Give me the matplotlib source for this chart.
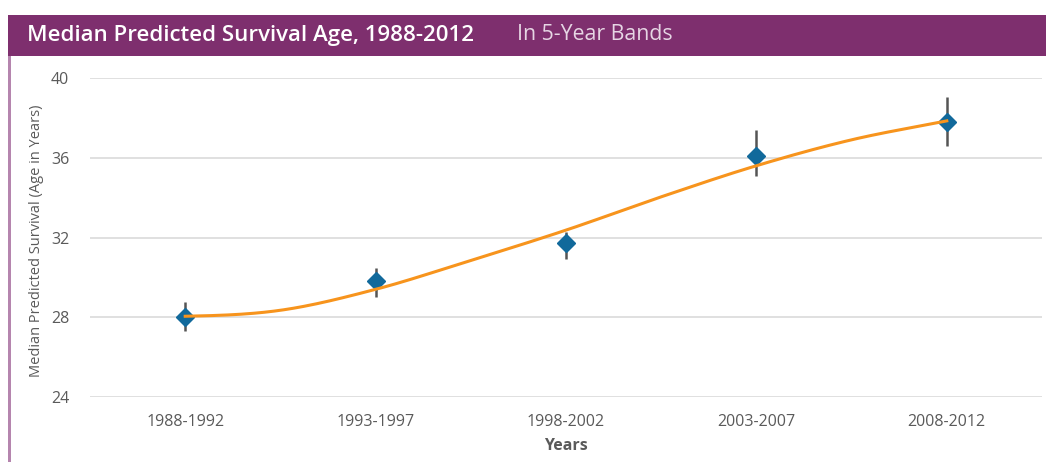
import numpy as np
import matplotlib
matplotlib.use("Agg")
import matplotlib.pyplot as plt
from matplotlib.patches import Rectangle

# ---- data ----
categories = ["1988-1992", "1993-1997", "1998-2002", "2003-2007", "2008-2012"]
median_age = [28.0, 29.8, 31.7, 36.1, 37.8]
err_low = [27.3, 29.0, 30.9, 35.1, 36.6]
err_high = [28.75, 30.45, 32.3, 37.4, 39.05]
# fitted trend read at half-category steps
trend_pos = [0, 0.5, 1, 1.5, 2, 2.5, 3, 3.5, 4]
trend_val = [28.05, 28.35, 29.4, 30.85, 32.37, 34.04, 35.6, 36.9, 37.85]
yticks = [24, 28, 32, 36, 40]

W, H = 1046, 462
fig = plt.figure(figsize=(W / 100, H / 100), dpi=100)
fig.patch.set_facecolor("white")

FONT = "Open Sans"
purple = "#7E2F6E"
# header bar and left border
fig.patches.append(Rectangle((8 / W, 1 - 56 / H), 1 - 8 / W, 41 / H,
                             transform=fig.transFigure, facecolor=purple,
                             edgecolor="none", zorder=0))
fig.patches.append(Rectangle((8 / W, 0), 3 / W, 1 - 56 / H,
                             transform=fig.transFigure, facecolor="#B585AE",
                             edgecolor="none", zorder=0))
fig.text(27 / W, 1 - 35 / H, "Median Predicted Survival Age, 1988-2012",
         color="white", fontsize=16, fontweight="semibold", family=FONT,
         ha="left", va="center")
fig.text(517 / W, 1 - 35 / H, "In 5-Year Bands", color="#E6D6E4",
         fontsize=15.3, family=FONT, ha="left", va="center")

ax = fig.add_axes([90 / W, 1 - 397 / H, (1042 - 90) / W, (397 - 78) / H])
x = np.arange(len(categories))

# smooth trend (cubic Hermite through read points)
tp = np.array(trend_pos, float)
tv = np.array(trend_val, float)
m = np.gradient(tv, tp)
m[0] = 0.2
xs, ys = [], []
for i in range(len(tp) - 1):
    h = tp[i + 1] - tp[i]
    t = np.linspace(0, 1, 30)
    h00 = 2 * t**3 - 3 * t**2 + 1
    h10 = t**3 - 2 * t**2 + t
    h01 = -2 * t**3 + 3 * t**2
    h11 = t**3 - t**2
    xs.append(tp[i] + t * h)
    ys.append(h00 * tv[i] + h10 * h * m[i] + h01 * tv[i + 1] + h11 * h * m[i + 1])
xs = np.concatenate(xs)
ys = np.concatenate(ys)

for yv in yticks:
    ax.axhline(yv, color="#DDDDDD", lw=1.3, zorder=0)

ax.vlines(x, err_low, err_high, color="#555555", lw=1.8, zorder=2)
ax.plot(x, median_age, linestyle="none", marker="D", markersize=9.5,
        color="#11699B", zorder=3)
ax.plot(xs, ys, color="#F7941D", lw=2.2, zorder=4)

ax.set_xlim(-0.5, 4.5)
ax.set_ylim(24, 40)
ax.set_yticks(yticks)
ax.set_xticks(x)
ax.set_xticklabels(categories)
for s in ax.spines.values():
    s.set_visible(False)
ax.tick_params(length=0, colors="#5A5A5A", labelsize=11.5)
ax.tick_params(axis="y", pad=15)
ax.tick_params(axis="x", pad=12)
for lab in ax.get_xticklabels() + ax.get_yticklabels():
    lab.set_family(FONT)
ax.set_xlabel("Years", fontsize=11.5, fontweight="bold", color="#5A5A5A",
              family=FONT, labelpad=6)
fig.text(37 / W, 1 - 241 / H, "Median Predicted Survival (Age in Years)",
         rotation=90, fontsize=10.5, color="#5A5A5A", family=FONT,
         ha="center", va="center")

fig.savefig("out.png", dpi=100)
